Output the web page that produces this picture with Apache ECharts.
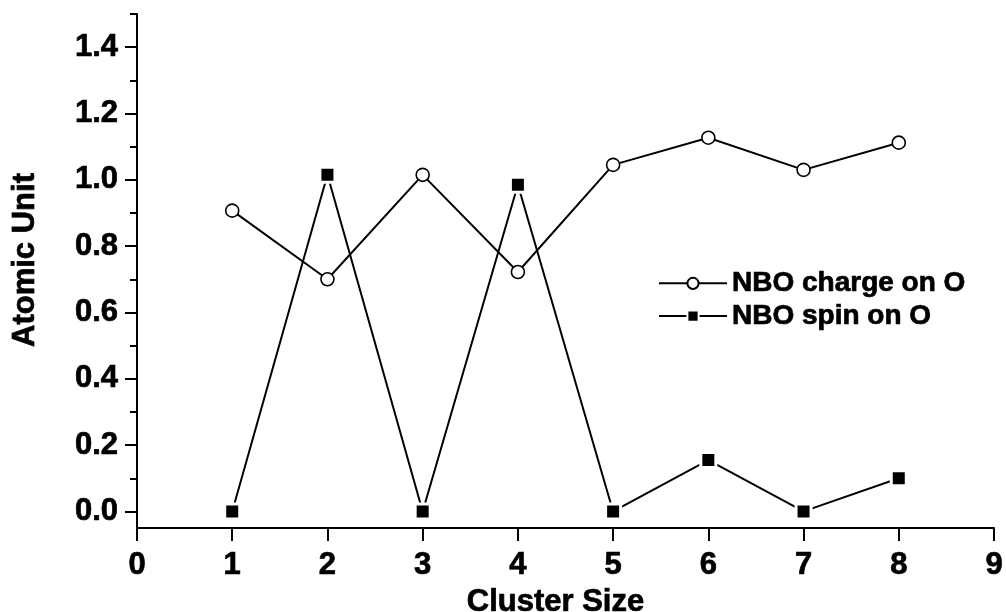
<!DOCTYPE html>
<html>
<head>
<meta charset="utf-8">
<script src="https://cdn.jsdelivr.net/npm/echarts@6/dist/echarts.min.js"></script>
<style>
html,body{margin:0;padding:0;background:#fff;}
#chart{width:1006px;height:612px;}
</style>
</head>
<body>
<div id="chart"></div>
<script>
const clusterSizes = [1, 2, 3, 4, 5, 6, 7, 8];
const chargeOnO = [0.907, 0.700, 1.015, 0.722, 1.045, 1.127, 1.030, 1.112];
const spinOnO = [0.000, 1.015, 0.000, 0.985, 0.000, 0.155, 0.000, 0.100];
const seriesNames = ['NBO charge on O', 'NBO spin on O'];
const xTickValues = [0, 1, 2, 3, 4, 5, 6, 7, 8, 9];
const yTickLabels = ['0.0', '0.2', '0.4', '0.6', '0.8', '1.0', '1.2', '1.4'];
const yMinorTickLabels = ['0.1', '0.3', '0.5', '0.7', '0.9', '1.1', '1.3', '1.5'];
const xAxisTitle = 'Cluster Size';
const yAxisTitle = 'Atomic Unit';

const FONT = '"Liberation Sans", Arial, Helvetica, sans-serif';
const INK = '#000';
const HEAVY = { textBorderColor: INK, textBorderWidth: 0.7 };

const chart = echarts.init(document.getElementById('chart'), null, { renderer: 'canvas' });

const yMajor = yTickLabels.map(Number);
const yMinor = yMinorTickLabels.map(Number);

const option = {
  animation: false,
  backgroundColor: '#fff',
  grid: { left: 137, right: 12, top: 14, bottom: 84, containLabel: false, outerBoundsMode: 'none' },
  legend: {
    orient: 'vertical',
    left: 653,
    top: 264,
    itemWidth: 68,
    itemHeight: 14,
    itemGap: 4,
    data: seriesNames,
    textStyle: Object.assign({ fontFamily: FONT, fontWeight: 'bold', fontSize: 28, color: INK }, HEAVY)
  },
  xAxis: {
    type: 'value',
    min: 0,
    max: 9,
    interval: 1,
    name: xAxisTitle,
    nameLocation: 'middle',
    nameGap: 47,
    nameTextStyle: Object.assign({ fontFamily: FONT, fontWeight: 'bold', fontSize: 31, color: INK, padding: [0, 20, 0, 0] }, HEAVY),
    axisLine: { show: true, onZero: false, lineStyle: { color: INK, width: 2 } },
    axisTick: { show: true, inside: false, length: 13, lineStyle: { color: INK, width: 2 }, customValues: xTickValues },
    axisLabel: Object.assign({ margin: 22, fontFamily: FONT, fontWeight: 'bold', fontSize: 31, color: INK, customValues: xTickValues }, HEAVY),
    splitLine: { show: false }
  },
  yAxis: [
    {
      type: 'value',
      min: -0.05,
      max: 1.5,
      name: yAxisTitle,
      nameLocation: 'middle',
      nameGap: 96,
      nameRotate: 90,
      nameTextStyle: Object.assign({ fontFamily: FONT, fontWeight: 'bold', fontSize: 31, color: INK, padding: [0, 0, 0, 22] }, HEAVY),
      axisLine: { show: true, onZero: false, lineStyle: { color: INK, width: 2 } },
      axisTick: { show: true, inside: false, length: 12, lineStyle: { color: INK, width: 2 }, customValues: yMajor },
      axisLabel: Object.assign({
        margin: 19, fontFamily: FONT, fontWeight: 'bold', fontSize: 31, color: INK,
        customValues: yMajor,
        formatter: v => yTickLabels[yMajor.indexOf(Math.round(v * 10) / 10)] || ''
      }, HEAVY),
      splitLine: { show: false }
    },
    {
      type: 'value',
      min: -0.05,
      max: 1.5,
      position: 'left',
      axisLine: { show: false },
      axisTick: { show: true, inside: false, length: 7, lineStyle: { color: INK, width: 2 }, customValues: yMinor },
      axisLabel: { show: false, customValues: yMinor },
      splitLine: { show: false }
    }
  ],
  series: [
    {
      name: seriesNames[0],
      type: 'line',
      data: clusterSizes.map((x, i) => [x, chargeOnO[i]]),
      symbol: 'circle',
      symbolSize: 13,
      lineStyle: { color: INK, width: 2 },
      itemStyle: { color: '#fff', borderColor: INK, borderWidth: 1.6 },
      emphasis: { disabled: true },
      z: 3
    },
    {
      name: seriesNames[1],
      type: 'line',
      data: clusterSizes.map((x, i) => [x, spinOnO[i]]),
      symbol: 'rect',
      symbolSize: 15,
      lineStyle: { color: INK, width: 2 },
      itemStyle: { color: INK, borderColor: '#fff', borderWidth: 3 },
      emphasis: { disabled: true },
      z: 2
    }
  ]
};

chart.setOption(option);
</script>
</body>
</html>
